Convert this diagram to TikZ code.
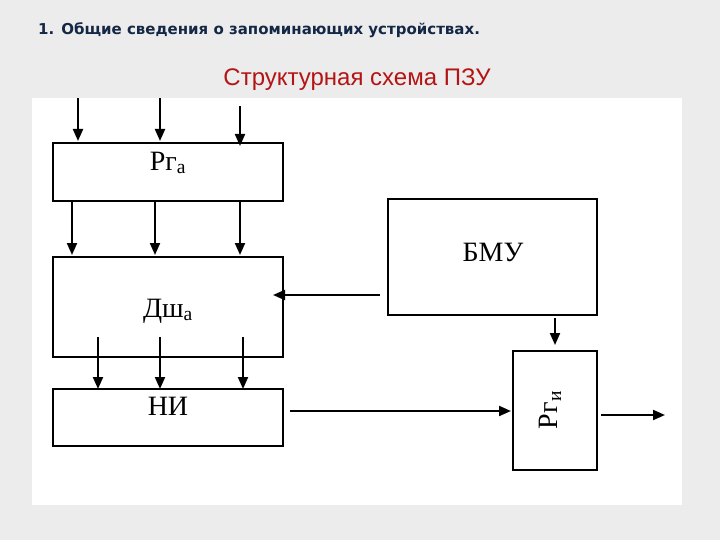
\documentclass[tikz,border=0pt]{standalone}
\usepackage{fontspec}
\setmainfont{Liberation Serif}
\newfontfamily\titlefont{DejaVu Sans}
\newfontfamily\redfont{Liberation Sans}
\usetikzlibrary{arrows.meta}
\definecolor{bg}{RGB}{236,236,236}
\definecolor{navy}{RGB}{20,40,70}
\definecolor{dred}{RGB}{180,20,20}
\tikzset{x=1pt,y=-1pt,
 blk/.style={draw,line width=2pt,fill=white},
 arr/.style={line width=2pt,-{Triangle[length=12pt,width=10pt]}},
 lbl/.style={font=\fontsize{28}{30}\selectfont}}
\begin{document}
\begin{tikzpicture}
\useasboundingbox (0,0) rectangle (720,540);
\fill[bg] (0,0) rectangle (720,540);
\fill[white] (32,98) rectangle (682,505);
\node[anchor=west,text=navy,inner sep=0pt,font=\titlefont\bfseries\fontsize{15}{17}\selectfont] (t1) at (38,30) {1. Общие сведения о запоминающих устройствах.};
\node[text=dred,font=\redfont\fontsize{24}{26}\selectfont] (t2) at (357,80) {Структурная схема ПЗУ};
\draw[blk] (53,143) rectangle (283,201);
\node[lbl] (rga) at (168,163) {Рг\textsubscript{а}};
\draw[blk] (53,257) rectangle (283,357);
\node[lbl] (dsha) at (168,311) {Дш\textsubscript{а}};
\draw[blk] (53,389) rectangle (283,446);
\node[lbl] (ni) at (168,406) {НИ};
\draw[blk] (388,199) rectangle (597,315);
\node[lbl] (bmu) at (493,252) {БМУ};
\draw[blk] (513,351) rectangle (597,470);
\node[lbl,rotate=90] (rgi) at (550,410) {Рг\textsubscript{и}};
\coordinate (a1) at (78,98); \coordinate (a1e) at (78,141);
\coordinate (a2) at (160,98); \coordinate (a2e) at (160,141);
\coordinate (a3) at (240,106); \coordinate (a3e) at (240,146);
\draw[arr] (a1) -- (a1e); \draw[arr] (a2) -- (a2e); \draw[arr] (a3) -- (a3e);
\coordinate (b1) at (72,202); \coordinate (b1e) at (72,255);
\coordinate (b2) at (155,202); \coordinate (b2e) at (155,255);
\coordinate (b3) at (240,202); \coordinate (b3e) at (240,255);
\draw[arr] (b1) -- (b1e); \draw[arr] (b2) -- (b2e); \draw[arr] (b3) -- (b3e);
\coordinate (c1) at (98,337); \coordinate (c1e) at (98,389);
\coordinate (c2) at (160,337); \coordinate (c2e) at (160,389);
\coordinate (c3) at (243,337); \coordinate (c3e) at (243,389);
\draw[arr] (c1) -- (c1e); \draw[arr] (c2) -- (c2e); \draw[arr] (c3) -- (c3e);
\coordinate (d1) at (380,295); \coordinate (d1e) at (273,295);
\draw[arr] (d1) -- (d1e);
\coordinate (e1) at (555,318); \coordinate (e1e) at (555,345);
\draw[arr] (e1) -- (e1e);
\coordinate (f1) at (290,411); \coordinate (f1e) at (511,411);
\draw[arr] (f1) -- (f1e);
\coordinate (g1) at (601,415); \coordinate (g1e) at (665,415);
\draw[arr] (g1) -- (g1e);
\end{tikzpicture}
\end{document}
